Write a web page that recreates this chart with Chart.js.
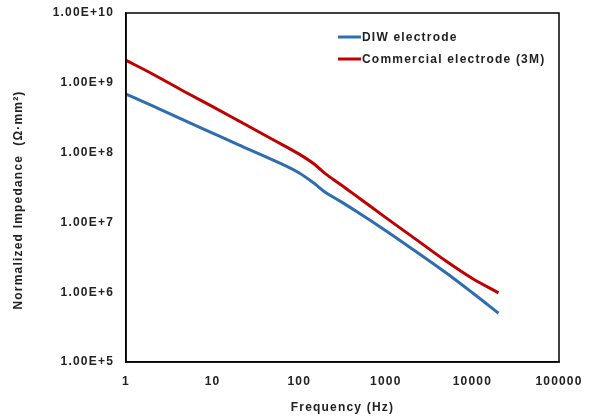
<!DOCTYPE html>
<html>
<head>
<meta charset="utf-8">
<script src="https://cdn.jsdelivr.net/npm/chart.js@4/dist/chart.umd.min.js"></script>
<style>
  html, body { margin: 0; padding: 0; background: #fff; }
  #wrap { width: 590px; height: 419px; }
</style>
</head>
<body>
<div id="wrap"><canvas id="chart" width="590" height="419"></canvas></div>
<script>
// Impedance vs frequency, log-log
const frequencies = [1, 2, 5, 10, 20, 50, 100, 150, 200, 300, 500, 1000, 2000, 5000, 10000, 20000];
const diwValues   = [6.9e8, 4.7e8, 2.8e8, 1.9e8, 1.29e8, 7.8e7, 5.1e7, 3.6e7, 2.7e7, 2.0e7, 1.34e7, 7.6e6, 4.2e6, 1.88e6, 9.8e5, 5.0e5];
const commValues  = [2.1e9, 1.35e9, 7.2e8, 4.55e8, 2.85e8, 1.53e8, 9.5e7, 6.8e7, 5.0e7, 3.5e7, 2.2e7, 1.17e7, 6.3e6, 2.77e6, 1.57e6, 9.8e5];
const xTickValues = [1, 10, 100, 1000, 10000, 100000];
const yTickValues = [1e5, 1e6, 1e7, 1e8, 1e9, 1e10];
const seriesLabels = ['DIW electrode', 'Commercial electrode (3M)'];
const seriesColors = ['#2E6DB0', '#C00000'];
const yTitle = 'Normalized Impedance  (\u03A9\u00B7mm\u00B2)';

const FONT = 'Liberation Sans, Arial, sans-serif';
const TEXT = '#222';
const SPACING = '1.2px'; // reference text is drawn quite loosely

function toPoints(vals){ return frequencies.map((f, i) => ({ x: f, y: vals[i] })); }

// wider letter spacing for all text (canvas state gets reset on resize, so set it per update)
const spacingPlugin = {
  id: 'spacing',
  beforeUpdate(chart){ chart.ctx.letterSpacing = SPACING; },
  beforeDraw(chart){ chart.ctx.letterSpacing = SPACING; }
};

// frame around plot area, legend inside it, y title
const framePlugin = {
  id: 'frame',
  afterDraw(chart){
    const c = chart.ctx, a = chart.chartArea;
    c.save();
    c.strokeStyle = '#000';
    c.lineWidth = 1.5;
    c.strokeRect(a.left, a.top, a.right - a.left, a.bottom - a.top);
    // legend
    c.font = 'bold 12px ' + FONT;
    c.textBaseline = 'middle';
    const rows = [37, 59];
    chart.data.datasets.forEach((ds, i) => {
      c.strokeStyle = ds.borderColor;
      c.lineWidth = 3;
      c.beginPath();
      c.moveTo(338, rows[i]); c.lineTo(361, rows[i]);
      c.stroke();
      c.fillStyle = TEXT;
      c.fillText(ds.label, 362, rows[i] + 1);
    });
    // y axis title
    c.translate(19, 200);
    c.rotate(-Math.PI / 2);
    c.textAlign = 'center';
    c.fillText(yTitle, 0, 0);
    c.restore();
  }
};

const ctx = document.getElementById('chart').getContext('2d');
const chart = new Chart(ctx, {
  type: 'scatter',
  data: {
    datasets: [
      { label: seriesLabels[0], data: toPoints(diwValues), borderColor: seriesColors[0], backgroundColor: seriesColors[0] },
      { label: seriesLabels[1], data: toPoints(commValues), borderColor: seriesColors[1], backgroundColor: seriesColors[1] }
    ].map(d => Object.assign(d, { showLine: true, pointRadius: 0, borderWidth: 3, cubicInterpolationMode: 'monotone' }))
  },
  options: {
    responsive: false,
    animation: false,
    layout: { padding: { top: 13, right: 31, bottom: 0, left: 0 } },
    plugins: { legend: { display: false }, tooltip: { enabled: false } },
    scales: {
      x: {
        type: 'logarithmic',
        min: 1, max: 100000,
        afterBuildTicks: s => { s.ticks = xTickValues.map(v => ({ value: v })); },
        afterFit: s => { s.height = 57; },
        grid: { display: false },
        border: { display: true, color: '#000', width: 1.5 },
        ticks: {
          autoSkip: false, maxRotation: 0, padding: 4,
          color: TEXT, font: { family: FONT, size: 12, weight: 'bold' },
          callback: v => String(v)
        },
        title: { display: true, text: 'Frequency (Hz)', color: TEXT, font: { family: FONT, size: 12, weight: 'bold' }, padding: { top: 8 } }
      },
      y: {
        type: 'logarithmic',
        min: 1e5, max: 1e10,
        afterBuildTicks: s => { s.ticks = yTickValues.map(v => ({ value: v })); },
        afterFit: s => { s.width = 126; s.paddingTop = 0; s.paddingBottom = 0; },
        grid: { display: false },
        border: { display: true, color: '#000', width: 1.5 },
        ticks: {
          autoSkip: false, padding: 4,
          color: TEXT, font: { family: FONT, size: 12, weight: 'bold' },
          callback: v => Number(v).toExponential(2).toUpperCase()
        },
        title: { display: false }
      }
    }
  },
  plugins: [spacingPlugin, framePlugin]
});
</script>
</body>
</html>
